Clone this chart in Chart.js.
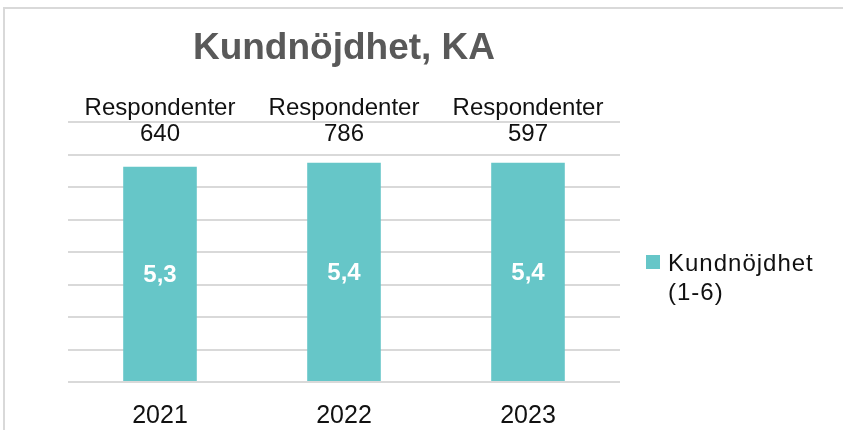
<!DOCTYPE html>
<html lang="sv">
<head>
<meta charset="utf-8">
<title>Kundnöjdhet, KA</title>
<script src="https://cdn.jsdelivr.net/npm/chart.js@4.4.1/dist/chart.umd.min.js"></script>
<style>
  html, body { margin: 0; padding: 0; background: #ffffff; }
  canvas { display: block; }
</style>
</head>
<body>
<canvas id="chart" width="843" height="430"></canvas>
<script>
// Survey years, average satisfaction score (scale 1-6) and number of respondents
const categories = ['2021', '2022', '2023'];
const satisfaction = [5.3, 5.4, 5.4];
const respondents = [640, 786, 597];
const seriesLabel = ['Kundnöjdhet', '(1-6)'];
const chartTitle = 'Kundnöjdhet, KA';

const FONT = '"Liberation Sans", Arial, sans-serif';
const BAR_COLOR = '#66C6C8';
const GRID_COLOR = '#d9d9d9';
const TEXT_COLOR = '#111111';

const fmt = v => v.toFixed(1).replace('.', ',');

// Frame around the whole chart
const framePlugin = {
  id: 'frame',
  beforeDraw(chart) {
    const ctx = chart.ctx;
    ctx.save();
    ctx.strokeStyle = GRID_COLOR;
    ctx.lineWidth = 2;
    ctx.strokeRect(4, 8, chart.width + 10, chart.height + 10);
    ctx.restore();
  }
};

// Value labels inside the bars and respondent counts above the plot
const labelsPlugin = {
  id: 'barLabels',
  afterDatasetsDraw(chart) {
    const ctx = chart.ctx;
    const meta = chart.getDatasetMeta(0);
    const area = chart.chartArea;
    ctx.save();
    ctx.textAlign = 'center';
    ctx.textBaseline = 'alphabetic';
    meta.data.forEach((bar, i) => {
      const mid = (bar.y + bar.base) / 2;
      ctx.fillStyle = '#ffffff';
      ctx.font = 'bold 24px ' + FONT;
      ctx.fillText(fmt(satisfaction[i]), bar.x, mid + 8.5);

      ctx.fillStyle = TEXT_COLOR;
      ctx.font = '24px ' + FONT;
      ctx.fillText('Respondenter', bar.x, area.top - 7);
      ctx.fillText(String(respondents[i]), bar.x, area.top + 19);
    });
    ctx.restore();
  },
  afterDraw(chart) {
    // Legend to the right of the plot
    const ctx = chart.ctx;
    const area = chart.chartArea;
    const ds = chart.data.datasets[0];
    const x0 = area.right + 26;
    ctx.save();
    ctx.fillStyle = ds.backgroundColor;
    ctx.fillRect(x0, 255, 14, 14);
    ctx.fillStyle = TEXT_COLOR;
    ctx.font = '24px ' + FONT;
    ctx.textAlign = 'left';
    ctx.textBaseline = 'alphabetic';
    ctx.letterSpacing = '1px';
    seriesLabel.forEach((line, i) => {
      ctx.fillText(line, x0 + 22, 271 + i * 29);
    });
    ctx.restore();
  }
};

new Chart(document.getElementById('chart'), {
  type: 'bar',
  data: {
    labels: categories,
    datasets: [{
      label: seriesLabel.join(' '),
      data: satisfaction,
      backgroundColor: BAR_COLOR,
      borderWidth: 0,
      categoryPercentage: 1,
      barPercentage: 0.4
    }]
  },
  options: {
    responsive: false,
    devicePixelRatio: 1,
    animation: false,
    layout: { padding: { top: 8, left: 68, right: 223, bottom: 0 } },
    plugins: {
      legend: { display: false },
      tooltip: { enabled: false },
      title: {
        display: true,
        text: chartTitle,
        color: '#595959',
        font: { family: FONT, size: 37, weight: 'bold', lineHeight: 1.2 },
        padding: { top: 19, bottom: 50.6 }
      }
    },
    scales: {
      x: {
        grid: { display: false },
        border: { display: false },
        ticks: { color: TEXT_COLOR, font: { family: FONT, size: 25 }, padding: 11 },
        afterFit(scale) { scale.height = 48; }
      },
      y: {
        min: 0,
        max: 6.4,
        grid: { color: GRID_COLOR, lineWidth: 2, drawTicks: false },
        border: { display: false },
        ticks: { display: false, stepSize: 0.8 },
        afterFit(scale) { scale.width = 0; }
      }
    }
  },
  plugins: [framePlugin, labelsPlugin]
});
</script>
</body>
</html>
